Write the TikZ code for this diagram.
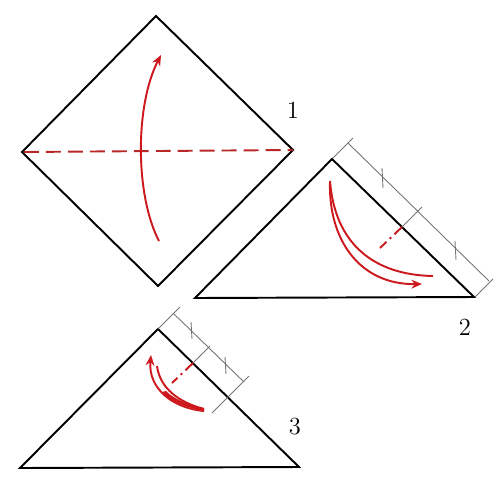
\documentclass[tikz,border=0pt]{standalone}
\usetikzlibrary{arrows.meta}
\definecolor{foldred}{RGB}{205,25,30}
\definecolor{creasered}{RGB}{185,40,40}
\tikzset{
  paper/.style={line width=1.1pt, line join=miter},
  crease/.style={creasered, line width=1.1pt, dash pattern=on 8.5pt off 4pt},
  midcrease/.style={foldred, line width=1.1pt, dash pattern=on 6pt off 2.5pt on 1.2pt off 2.5pt},
  dimline/.style={black!55, line width=0.5pt},
  turn/.style={foldred, line width=1.1pt},
  turntip/.style={turn, -{Stealth[length=6pt,width=5pt]}},
  steplabel/.style={font=\fontsize{14}{16}\selectfont, inner sep=0pt}
}
\begin{document}
\begin{tikzpicture}[x=0.02cm, y=-0.02cm]
\useasboundingbox (0,0) rectangle (500,484);

% step 1
\draw[paper] (156,16) -- (293,150) -- (158,286) -- (22,152) -- cycle;
\draw[crease] (24,152) -- (293,150);
\draw[turntip] (159,241) .. controls (135,195) and (135,105) .. (161,55);
\node[steplabel] (num1) at (293,110) {1};

% step 2
\draw[paper] (332,159) -- (474,297) -- (195,298) -- cycle;
\draw[dimline] (333,158) -- (353,138);
\draw[dimline] (348,143) -- (489,281);
\draw[dimline] (475,297) -- (493,279);
\draw[dimline] (402,227) -- (422,207);
\draw[dimline] (382,168) -- (383,188);
\draw[dimline] (455,241) -- (456,260);
\draw[midcrease] (402,227) -- (380,248);
\draw[turn] (330,181) .. controls (335,245) and (375,275) .. (433,276);
\draw[turntip] (330,181) .. controls (328,240) and (360,285) .. (422,284);
\node[steplabel] (num2) at (465,327) {2};

% step 3
\draw[paper] (158,329) -- (299,467) -- (20,468) -- cycle;
\draw[dimline] (158,329) -- (180,307);
\draw[dimline] (173,313) -- (244,382);
\draw[dimline] (212,413) -- (249,376);
\draw[dimline] (193,363) -- (210,346);
\draw[dimline] (191,322) -- (192,339);
\draw[dimline] (225,357) -- (226,374);
\draw[midcrease] (193,363) -- (172,383);
\fill[foldred] (204,411) .. controls (180,406) and (168,400) .. (162,392)
  -- (166,391) .. controls (174,399) and (186,404) .. (204,408) -- cycle;
\draw[turn] (204,409) .. controls (178,402) and (160,388) .. (157,366);
\draw[turntip] (204,411) .. controls (172,408) and (148,388) .. (151,355);
\node[steplabel] (num3) at (295,427) {3};
\end{tikzpicture}
\end{document}
